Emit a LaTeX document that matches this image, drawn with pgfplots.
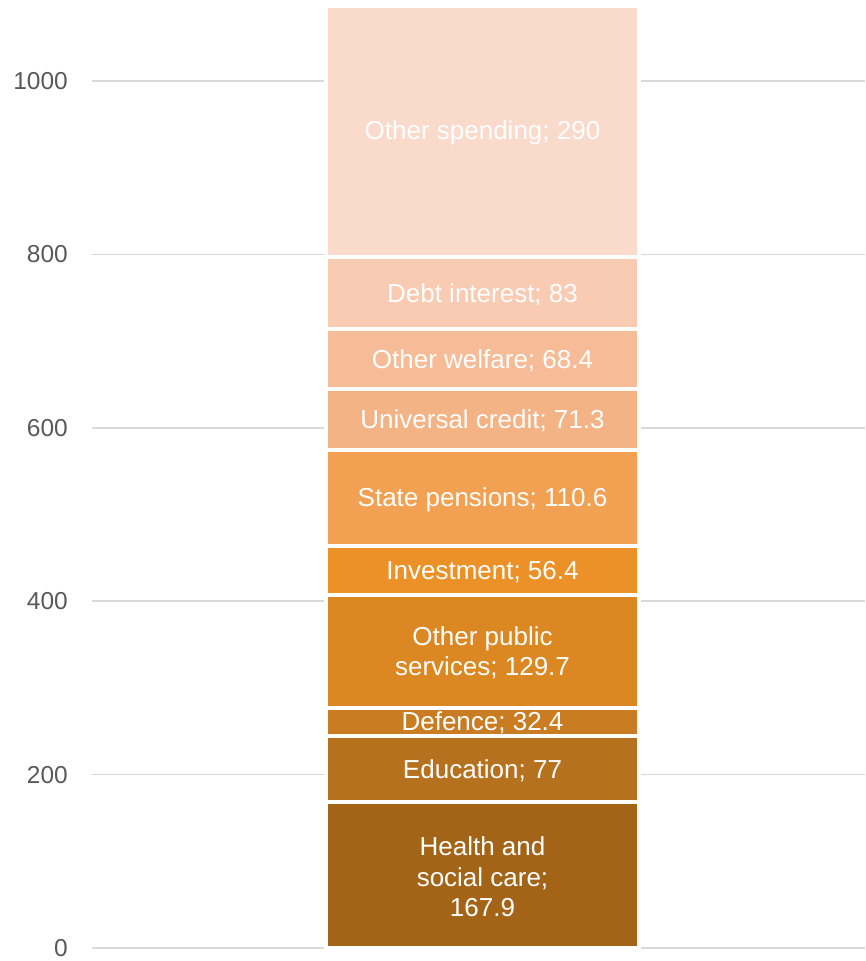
\documentclass[border=0pt]{standalone}
\usepackage{pgfplots}
\pgfplotsset{compat=1.18}
\usepackage{fontspec}
\setmainfont{Liberation Sans}
\definecolor{cHealth}{HTML}{A36417}
\definecolor{cEdu}{HTML}{B6711E}
\definecolor{cDef}{HTML}{CA7C22}
\definecolor{cOps}{HTML}{DB8823}
\definecolor{cInv}{HTML}{EB9127}
\definecolor{cPen}{HTML}{F2A052}
\definecolor{cUC}{HTML}{F4B385}
\definecolor{cWel}{HTML}{F6BC98}
\definecolor{cDebt}{HTML}{F8CBB2}
\definecolor{cOth}{HTML}{F9DACB}
\definecolor{tickgray}{HTML}{595959}
\definecolor{gridgray}{HTML}{D9D9D9}
\tikzset{lbl/.style={text=white, align=center, font=\fontsize{26}{30.5}\selectfont, inner sep=0pt, yshift=-1.5pt}}
\begin{document}
\begin{tikzpicture}
\useasboundingbox (-92pt,-13pt) rectangle (773pt,948pt);
\begin{axis}[
  scale only axis,
  width=773pt, height=948pt,
  xmin=0, xmax=773, ymin=0, ymax=1093.4,
  enlarge x limits=false, enlarge y limits=false,
  ybar stacked, bar width=313pt,
  axis line style={draw=none},
  major tick length=0pt,
  xtick=\empty,
  ytick={0,200,400,600,800,1000},
  ymajorgrids,
  grid style={gridgray, line width=1.5pt},
  /pgf/number format/assume math mode=true,
  /pgf/number format/1000 sep={},
  yticklabel style={font=\fontsize{24.5}{28}\selectfont, text=tickgray, anchor=east, inner sep=0pt, xshift=-24pt},
  clip=false,
]
\addplot[fill=cHealth, draw=white, line width=4pt] coordinates {(390.5,167.9)};
\addplot[fill=cEdu, draw=white, line width=4pt] coordinates {(390.5,77)};
\addplot[fill=cDef, draw=white, line width=4pt] coordinates {(390.5,32.4)};
\addplot[fill=cOps, draw=white, line width=4pt] coordinates {(390.5,129.7)};
\addplot[fill=cInv, draw=white, line width=4pt] coordinates {(390.5,56.4)};
\addplot[fill=cPen, draw=white, line width=4pt] coordinates {(390.5,110.6)};
\addplot[fill=cUC, draw=white, line width=4pt] coordinates {(390.5,71.3)};
\addplot[fill=cWel, draw=white, line width=4pt] coordinates {(390.5,68.4)};
\addplot[fill=cDebt, draw=white, line width=4pt] coordinates {(390.5,83)};
\addplot[fill=cOth, draw=white, line width=4pt] coordinates {(390.5,290)};
\coordinate (l1) at (axis cs:390.5,83.95);
\coordinate (l2) at (axis cs:390.5,206.4);
\coordinate (l3) at (axis cs:390.5,261.1);
\coordinate (l4) at (axis cs:390.5,342.15);
\coordinate (l5) at (axis cs:390.5,435.2);
\coordinate (l6) at (axis cs:390.5,518.7);
\coordinate (l7) at (axis cs:390.5,609.65);
\coordinate (l8) at (axis cs:390.5,679.5);
\coordinate (l9) at (axis cs:390.5,755.2);
\coordinate (l10) at (axis cs:390.5,941.7);
\end{axis}
\node[lbl] at (l1) {Health and\\social care;\\167.9};
\node[lbl] at (l2) {Education; 77};
\node[lbl] at (l3) {Defence; 32.4};
\node[lbl] at (l4) {Other public\\services; 129.7};
\node[lbl] at (l5) {Investment; 56.4};
\node[lbl] at (l6) {State pensions; 110.6};
\node[lbl] at (l7) {Universal credit; 71.3};
\node[lbl] at (l8) {Other welfare; 68.4};
\node[lbl] at (l9) {Debt interest; 83};
\node[lbl] at (l10) {Other spending; 290};
\end{tikzpicture}
\end{document}
